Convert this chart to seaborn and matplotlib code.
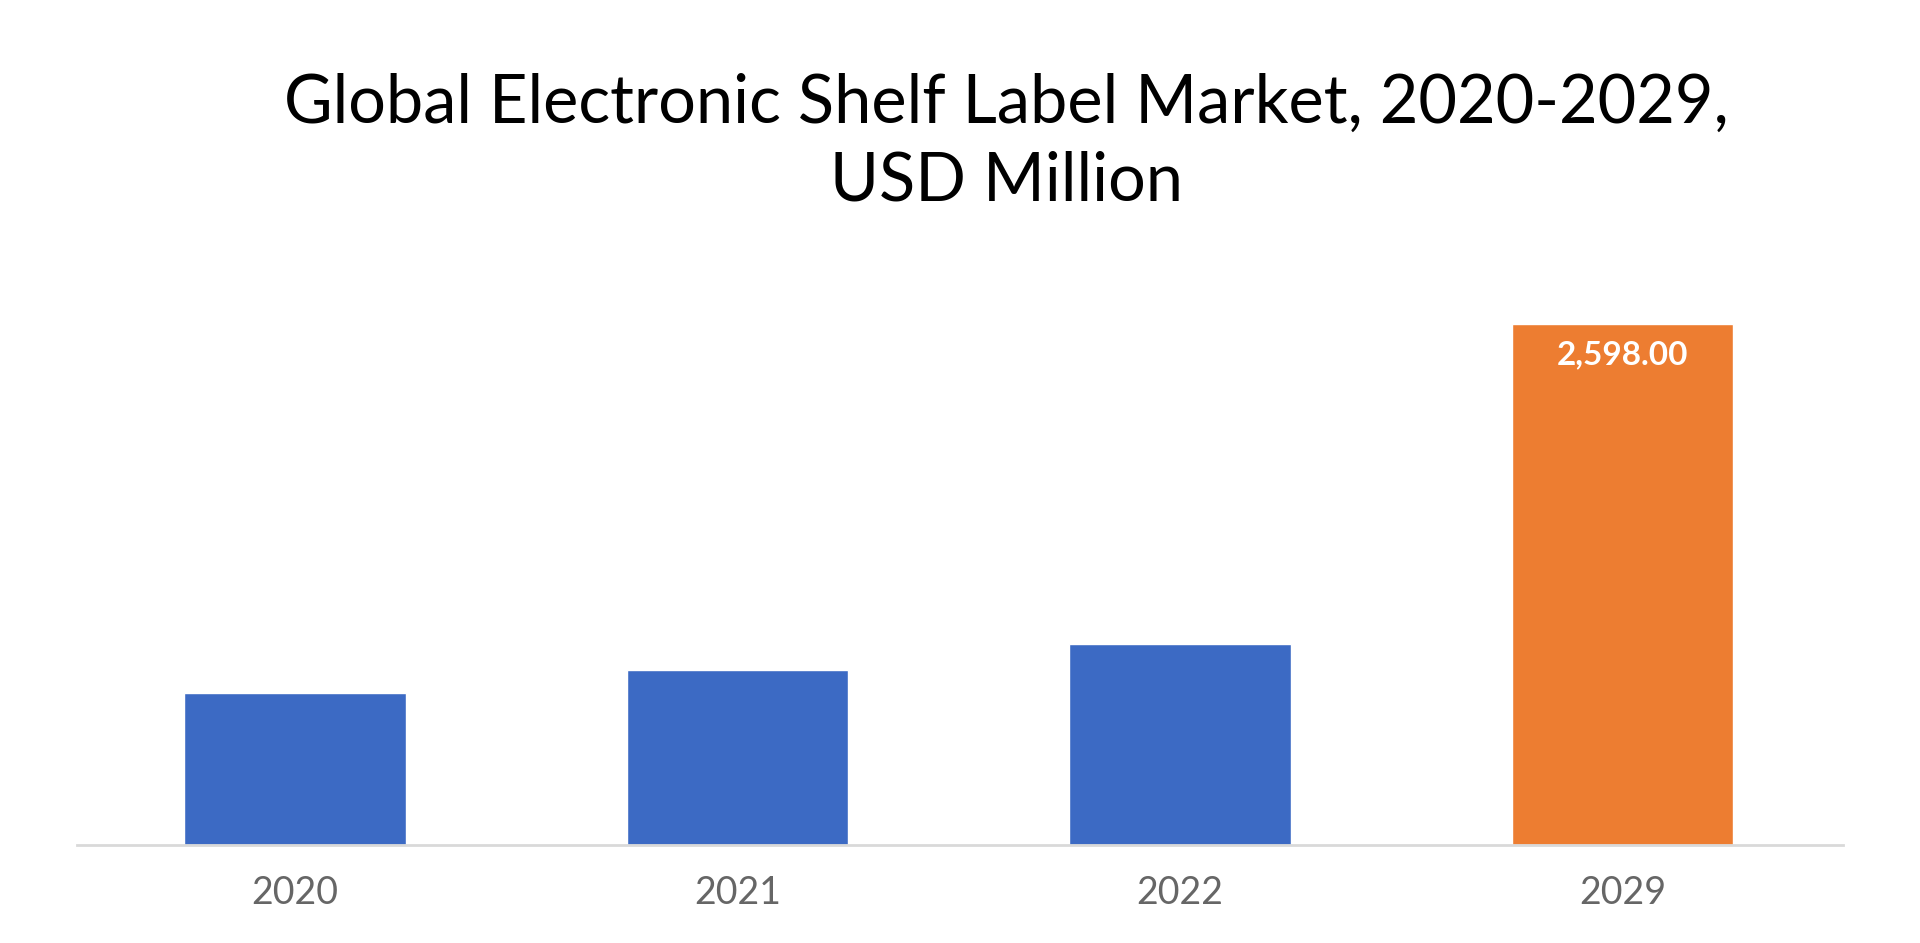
import matplotlib
matplotlib.use("Agg")
import matplotlib.pyplot as plt
import seaborn as sns
import pandas as pd

years = ["2020", "2021", "2022", "2029"]
values = [758, 874, 1002, 2598]
colors = ["#3C6AC4", "#3C6AC4", "#3C6AC4", "#ED7D31"]
label_text = "2,598.00"

sns.set_theme(style="white")
plt.rcParams['font.family'] = ['Lato', 'DejaVu Sans']

fig = plt.figure(figsize=(19.2, 9.43), dpi=100)
ax = fig.add_axes([0.04, 0.104, 0.92, 0.595])
df = pd.DataFrame({"year": years, "value": values})
sns.barplot(data=df, x="year", y="value", hue="year", palette=colors, legend=False,
            width=0.5, ax=ax, saturation=1)
ax.set_xlim(-0.493, 3.499)
ax.set_ylim(0, 2800)
ax.set_yticks([])
ax.set_xlabel("")
ax.set_ylabel("")
for s in ["top", "right", "left"]:
    ax.spines[s].set_visible(False)
ax.spines["bottom"].set_color("#D9D9D9")
ax.spines["bottom"].set_linewidth(2)
ax.tick_params(axis="x", length=0, labelsize=27, labelcolor="#666666", pad=22)
ax.text(3, values[3] - 150, label_text, ha="center", va="center", color="white",
        fontsize=24, fontweight="bold")
fig.text(0.524, 0.89, "Global Electronic Shelf Label Market, 2020-2029,", ha="center",
         va="center", fontsize=48, color="black")
fig.text(0.524, 0.808, "USD Million", ha="center", va="center", fontsize=48, color="black")
fig.savefig("out.png", dpi=100)
